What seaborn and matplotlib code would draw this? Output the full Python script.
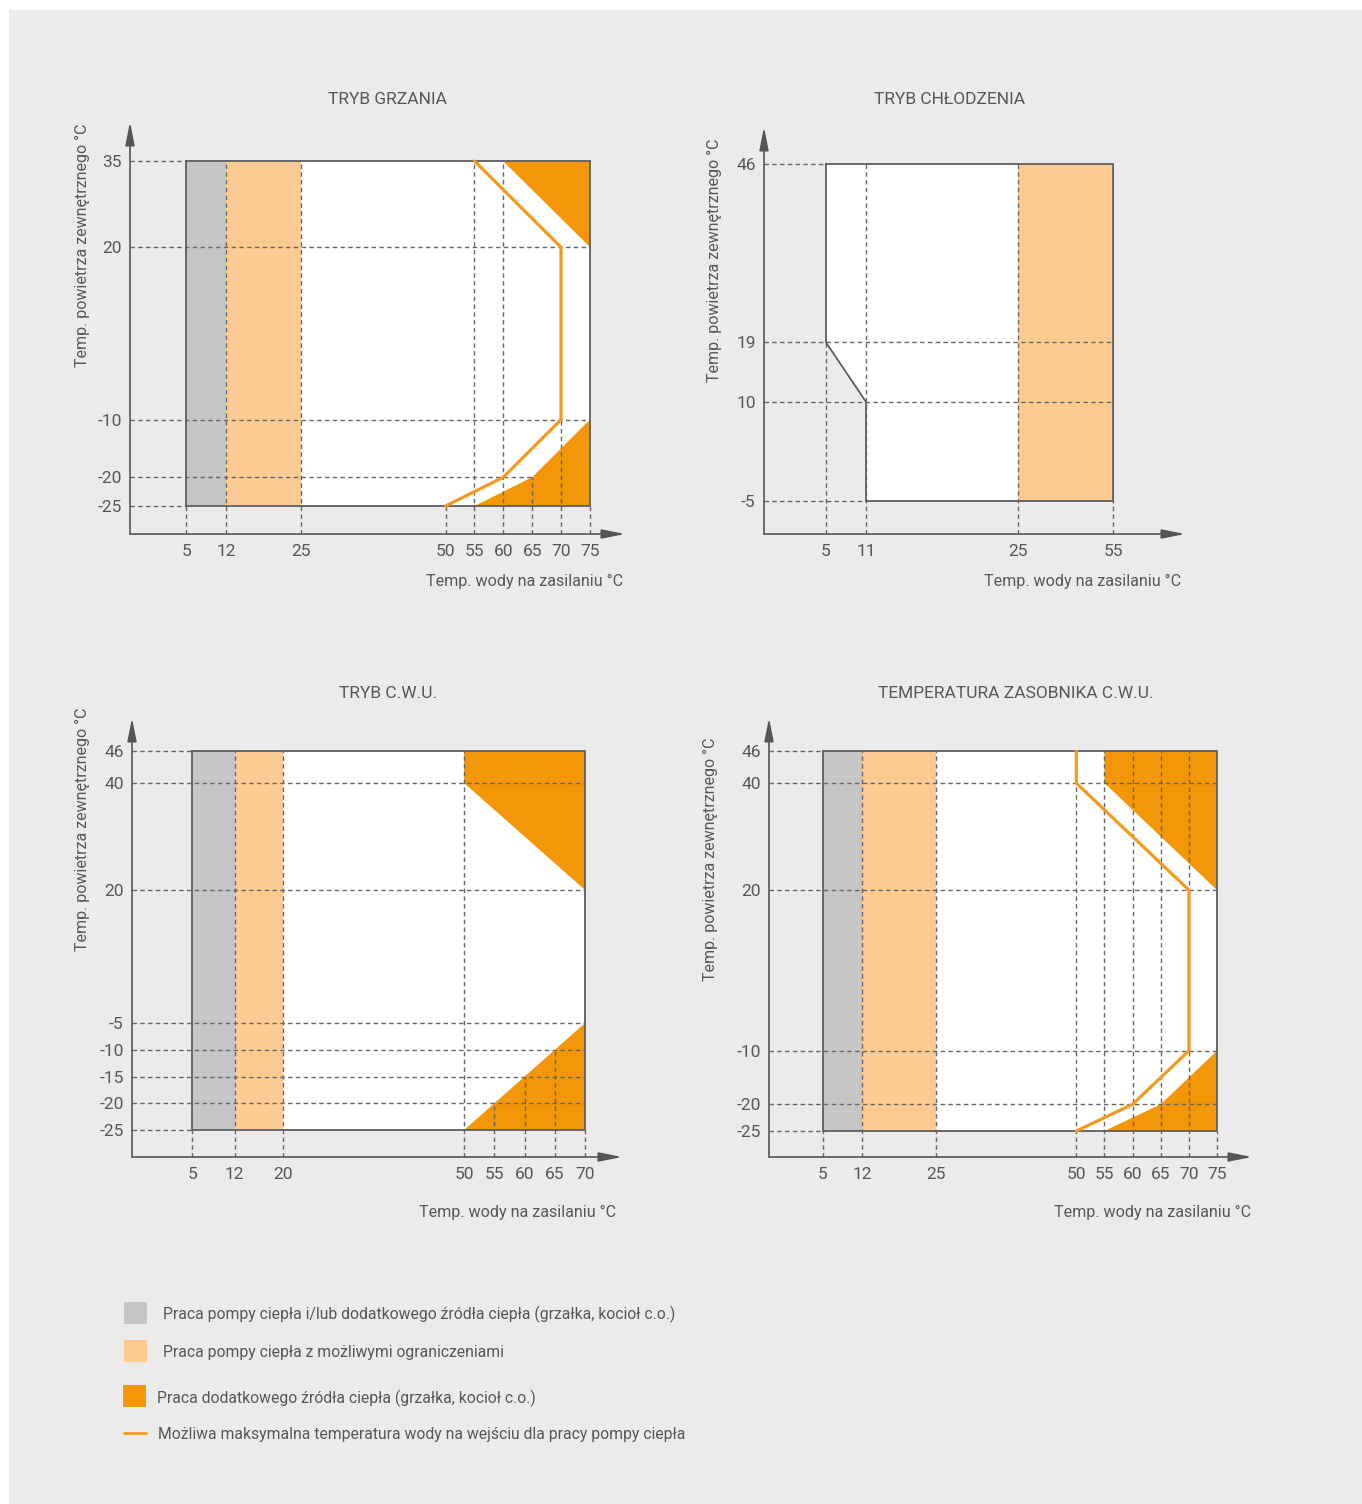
import numpy as np
import pandas as pd
import matplotlib
matplotlib.use("Agg")
import matplotlib.pyplot as plt
import seaborn as sns
from matplotlib.patches import Rectangle
from matplotlib.lines import Line2D

sns.set_theme(style="white")
plt.rcParams["font.family"] = ["Roboto", "DejaVu Sans"]

# ---------------------------------------------------------------- colours
GRAY = "#c6c6c6"
LIGHT = "#fdcb91"
ORANGE = "#f39708"
LINE = "#f39a1e"
INK = "#575757"
FRAME = "#5e5e5e"
GUIDE = "#666666"
BG = "#ebebeb"

# ---------------------------------------------------------------- data
# TRYB GRZANIA
heat_x_ticks = [5, 12, 25, 50, 55, 60, 65, 70, 75]
heat_y_ticks = [35, 20, -10, -20, -25]
heat_frame_x = [5, 75, 75, 5, 5]
heat_frame_y = [35, 35, -25, -25, 35]
heat_gray = [5, 12]
heat_light = [12, 25]
heat_top_x = [60, 75, 75]
heat_top_y = [35, 35, 20]
heat_bot_x = [55, 65, 75, 75]
heat_bot_y = [-25, -20, -10, -25]
heat_line_x = [55, 70, 70, 60, 50]
heat_line_y = [35, 20, -10, -20, -25]
heat_h_guides = [(35, 5), (20, 75), (-10, 75), (-20, 65), (-25, 5)]
heat_v_guides = [(5, -25), (12, 35), (25, 35), (50, -25), (55, 35),
                 (60, 35), (65, -20), (70, -10), (75, -25)]

# TRYB CHŁODZENIA
cool_x_ticks = [5, 11, 25, 55]
cool_y_ticks = [46, 19, 10, -5]
cool_frame_x = [5, 55, 55, 11, 11, 5, 5]
cool_frame_y = [46, 46, -5, -5, 10, 19, 46]
cool_light = [25, 55]
cool_h_guides = [(46, 5), (19, 55), (10, 55), (-5, 11)]
cool_v_guides = [(5, 19), (11, 46), (25, 46), (55, -5)]

# TRYB C.W.U.
dhw_x_ticks = [5, 12, 20, 50, 55, 60, 65, 70]
dhw_y_ticks = [46, 40, 20, -5, -10, -15, -20, -25]
dhw_frame_x = [5, 70, 70, 5, 5]
dhw_frame_y = [46, 46, -25, -25, 46]
dhw_gray = [5, 12]
dhw_light = [12, 20]
dhw_top_x = [50, 70, 70, 50]
dhw_top_y = [46, 46, 20, 40]
dhw_bot_x = [50, 70, 70]
dhw_bot_y = [-25, -5, -25]
dhw_h_guides = [(46, 5), (40, 70), (20, 70), (-5, 70), (-10, 70),
                (-15, 70), (-20, 70), (-25, 5)]
dhw_v_guides = [(5, -25), (12, 46), (20, 46), (50, 46), (55, -20),
                (60, -15), (65, -10), (70, -25)]

# TEMPERATURA ZASOBNIKA C.W.U.
tank_x_ticks = [5, 12, 25, 50, 55, 60, 65, 70, 75]
tank_y_ticks = [46, 40, 20, -10, -20, -25]
tank_frame_x = [5, 75, 75, 5, 5]
tank_frame_y = [46, 46, -25, -25, 46]
tank_gray = [5, 12]
tank_light = [12, 25]
tank_top_x = [55, 75, 75, 55]
tank_top_y = [46, 46, 20, 40]
tank_bot_x = [55, 65, 75, 75]
tank_bot_y = [-25, -20, -10, -25]
tank_line_x = [50, 50, 70, 70, 60, 50]
tank_line_y = [46, 40, 20, -10, -20, -25]
tank_h_guides = [(46, 5), (40, 75), (20, 75), (-10, 75), (-20, 75), (-25, 5)]
tank_v_guides = [(5, -25), (12, 46), (25, 46), (50, 46), (55, 46),
                 (60, 46), (65, 46), (70, 46), (75, -25)]

legend_labels = [
    "Praca pompy ciepła i/lub dodatkowego źródła ciepła (grzałka, kocioł c.o.)",
    "Praca pompy ciepła z możliwymi ograniczeniami",
    "Praca dodatkowego źródła ciepła (grzałka, kocioł c.o.)",
    "Możliwa maksymalna temperatura wody na wejściu dla pracy pompy ciepła",
]

X_LABEL = "Temp. wody na zasilaniu °C"
Y_LABEL = "Temp. powietrza zewnętrznego °C"

# ---------------------------------------------------------------- figure
W, H = 1362, 1504
fig = plt.figure(figsize=(W / 100, H / 100), dpi=100, facecolor="white")
fig.add_artist(Rectangle((9 / W, 0), 1 - 9 / W, 1 - 10 / H,
                         transform=fig.transFigure, facecolor=BG,
                         edgecolor="none", zorder=-10))


def fx(px):
    return px / W


def fy(py):
    return 1 - py / H


def make_axes(left, right, top, bottom):
    ax = fig.add_axes([fx(left), fy(bottom), (right - left) / W, (bottom - top) / H])
    ax.set_facecolor("none")
    for s in ax.spines.values():
        s.set_visible(False)
    ax.grid(False)
    return ax


def piecewise(vals, pos):
    vals = np.asarray(vals, float)
    pos = np.asarray(pos, float)
    s0 = (pos[1] - pos[0]) / (vals[1] - vals[0])
    s1 = (pos[-1] - pos[-2]) / (vals[-1] - vals[-2])

    def fwd(x):
        x = np.asarray(x, float)
        y = np.interp(x, vals, pos)
        y = np.where(x < vals[0], pos[0] + (x - vals[0]) * s0, y)
        return np.where(x > vals[-1], pos[-1] + (x - vals[-1]) * s1, y)

    def inv(y):
        y = np.asarray(y, float)
        x = np.interp(y, pos, vals)
        x = np.where(y < pos[0], vals[0] + (y - pos[0]) / s0, x)
        return np.where(y > pos[-1], vals[-1] + (y - pos[-1]) / s1, x)

    return fwd, inv


def draw_panel(ax, xlim, ylim, xticks, yticks, frame_x, frame_y,
               h_guides, v_guides, gray=None, light=None, light_y=None,
               top=None, bottom=None, line=None):
    ax.set_xlim(*xlim)
    ax.set_ylim(*ylim)
    x0, y0 = xlim[0], ylim[0]
    fy_lo, fy_hi = min(frame_y), max(frame_y)

    # operating envelope
    ax.fill(frame_x, frame_y, color="white", zorder=1, lw=0)
    if gray is not None:
        ax.fill_between(gray, fy_lo, fy_hi, color=GRAY, lw=0, zorder=1.2)
    if light is not None:
        lo, hi = light_y if light_y is not None else (fy_lo, fy_hi)
        ax.fill_between(light, lo, hi, color=LIGHT, lw=0, zorder=1.2)
    for poly in (top, bottom):
        if poly is not None:
            ax.fill(poly[0], poly[1], color=ORANGE, lw=0, zorder=1.4)

    # dashed guides from the axes to the envelope
    for yv, xend in h_guides:
        ax.plot([x0, xend], [yv, yv], ls=(0, (3.2, 2.4)), lw=1.0,
                color=GUIDE, zorder=2)
    for xv, yend in v_guides:
        ax.plot([xv, xv], [y0, yend], ls=(0, (3.2, 2.4)), lw=1.0,
                color=GUIDE, zorder=2)

    ax.plot(frame_x, frame_y, color=FRAME, lw=1.3, zorder=3,
            solid_joinstyle="miter")

    if line is not None:
        df = pd.DataFrame({"x": line[0], "y": line[1]})
        sns.lineplot(data=df, x="x", y="y", sort=False, estimator=None,
                     color=LINE, lw=2.3, ax=ax, zorder=4)
        ax.set_xlabel("")
        ax.set_ylabel("")

    ax.set_xlim(*xlim)
    ax.set_ylim(*ylim)
    ax.set_xticks(xticks)
    ax.set_yticks(yticks)
    ax.set_xticklabels([str(t) for t in xticks])
    ax.set_yticklabels([str(t) for t in yticks])
    ax.tick_params(axis="both", length=0, labelsize=12.5, labelcolor=INK)
    ax.tick_params(axis="x", pad=7)
    ax.tick_params(axis="y", pad=6)

    arrow = dict(arrowstyle="-|>,head_length=1.4,head_width=0.28",
                 color="#555555", lw=1.2, shrinkA=0, shrinkB=0,
                 mutation_scale=10)
    ax.annotate("", xy=(1, 0), xytext=(0, 0), xycoords="axes fraction",
                arrowprops=arrow, zorder=5)
    ax.annotate("", xy=(0, 1), xytext=(0, 0), xycoords="axes fraction",
                arrowprops=arrow, zorder=5)


def labels(title, tx, ty, xl_right, xl_y, yl_x, yl_y):
    fig.text(fx(tx), fy(ty), title, ha="center", va="center",
             fontsize=12.5, color=INK)
    fig.text(fx(xl_right), fy(xl_y), X_LABEL, ha="right", va="center",
             fontsize=11.6, color=INK)
    fig.text(fx(yl_x), fy(yl_y), Y_LABEL, ha="center", va="center",
             rotation=90, fontsize=11.5, color=INK)


# TRYB GRZANIA
ax1 = make_axes(130, 625, 122, 534)
draw_panel(ax1, (-4.73, 81.1), (-29.87, 41.78), heat_x_ticks, heat_y_ticks,
           heat_frame_x, heat_frame_y, heat_h_guides, heat_v_guides,
           gray=heat_gray, light=heat_light,
           top=(heat_top_x, heat_top_y), bottom=(heat_bot_x, heat_bot_y),
           line=(heat_line_x, heat_line_y))
labels("TRYB GRZANIA", 388, 100, 623, 581, 82, 245)

# TRYB CHŁODZENIA (uneven spacing of the supply temperature axis)
ax2 = make_axes(764, 1185, 127, 534)
fwd, inv = piecewise(cool_x_ticks, [0, 40, 192, 287])
ax2.set_xscale("function", functions=(fwd, inv))
draw_panel(ax2, (-4.3, 77.7), (-9.99, 51.6), cool_x_ticks, cool_y_ticks,
           cool_frame_x, cool_frame_y, cool_h_guides, cool_v_guides,
           light=cool_light, light_y=(-5, 46))
labels("TRYB CHŁODZENIA", 950, 100, 1181, 581, 714, 260)

# TRYB C.W.U.
ax3 = make_axes(132, 622, 718, 1157)
draw_panel(ax3, (-5.02, 76.15), (-30.06, 52.2), dhw_x_ticks, dhw_y_ticks,
           dhw_frame_x, dhw_frame_y, dhw_h_guides, dhw_v_guides,
           gray=dhw_gray, light=dhw_light,
           top=(dhw_top_x, dhw_top_y), bottom=(dhw_bot_x, dhw_bot_y))
labels("TRYB C.W.U.", 388, 693, 616, 1212, 82, 829)

# TEMPERATURA ZASOBNIKA C.W.U.
ax4 = make_axes(769, 1252, 718, 1157)
draw_panel(ax4, (-4.59, 81.2), (-29.86, 52.17), tank_x_ticks, tank_y_ticks,
           tank_frame_x, tank_frame_y, tank_h_guides, tank_v_guides,
           gray=tank_gray, light=tank_light,
           top=(tank_top_x, tank_top_y), bottom=(tank_bot_x, tank_bot_y),
           line=(tank_line_x, tank_line_y))
labels("TEMPERATURA ZASOBNIKA C.W.U.", 1016, 693, 1251, 1212, 710, 859)

# ---------------------------------------------------------------- legend
swatches = [(124, 1302, GRAY, 163, 1314), (124, 1340, LIGHT, 163, 1353),
            (123, 1385, ORANGE, 157, 1398)]
for (sx, sy, col, tx, ty), text in zip(swatches, legend_labels[:3]):
    fig.add_artist(Rectangle((fx(sx), fy(sy + 22)), 23 / W, 22 / H,
                             transform=fig.transFigure, facecolor=col,
                             edgecolor="none"))
    fig.text(fx(tx), fy(ty), text, ha="left", va="center", fontsize=11.3,
             color=INK)
fig.add_artist(Line2D([fx(124), fx(146)], [fy(1433), fy(1433)],
                      transform=fig.transFigure, color=LINE, lw=2.0))
fig.text(fx(158), fy(1435), legend_labels[3], ha="left", va="center",
         fontsize=11.3, color=INK)

fig.savefig("out.png", dpi=100, facecolor="white")
